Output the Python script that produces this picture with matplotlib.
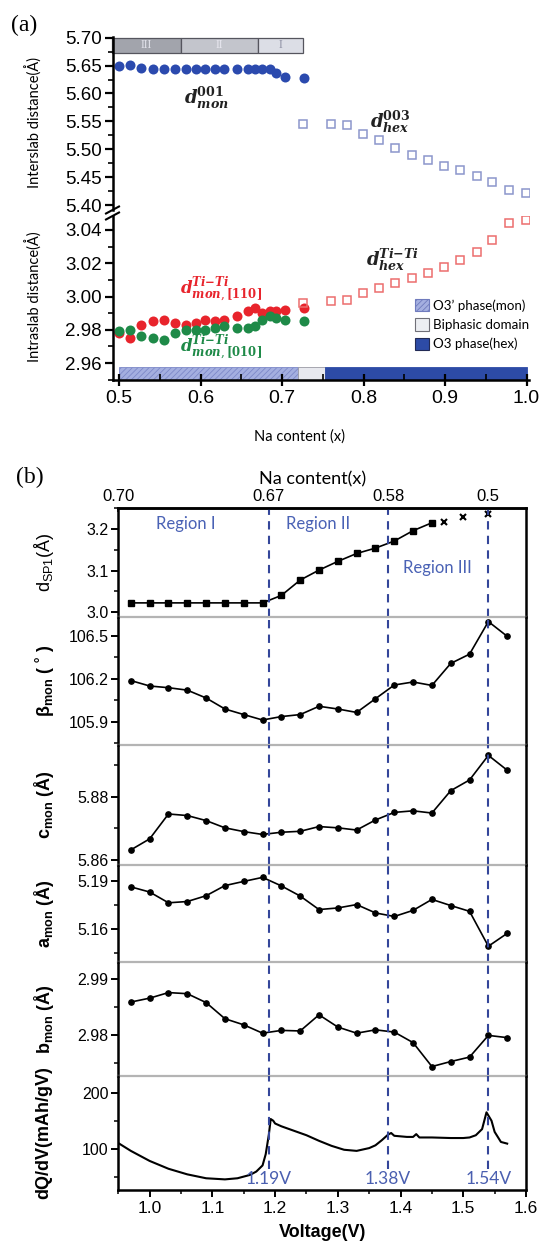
import matplotlib
matplotlib.use('Agg')
import matplotlib.pyplot as plt
from matplotlib.patches import Patch, Rectangle
from matplotlib.lines import Line2D
from matplotlib.ticker import MultipleLocator

plt.rcParams['font.family'] = ['Liberation Sans', 'DejaVu Sans']
plt.rcParams['mathtext.fontset'] = 'custom'
plt.rcParams['mathtext.rm'] = 'Liberation Sans'
plt.rcParams['mathtext.it'] = 'Liberation Sans:italic'
plt.rcParams['mathtext.bf'] = 'Liberation Sans:bold'
plt.rcParams['hatch.linewidth'] = 0.6

# ---------------- panel (a) data ----------------
na_mon = [0.500, 0.513, 0.527, 0.541, 0.555, 0.569, 0.582, 0.594, 0.605, 0.617,
          0.629, 0.644, 0.658, 0.667, 0.675, 0.685, 0.692, 0.704, 0.727]
d001_mon = [5.649, 5.651, 5.646, 5.644, 5.643, 5.643, 5.643, 5.643, 5.643, 5.643,
            5.643, 5.643, 5.643, 5.643, 5.643, 5.643, 5.636, 5.630, 5.628]
d110_mon = [2.978, 2.975, 2.983, 2.985, 2.986, 2.984, 2.983, 2.984, 2.986, 2.985,
            2.986, 2.988, 2.991, 2.993, 2.990, 2.991, 2.991, 2.992, 2.993]
d010_mon = [2.979, 2.980, 2.976, 2.975, 2.974, 2.978, 2.980, 2.980, 2.980, 2.981,
            2.982, 2.981, 2.981, 2.982, 2.986, 2.988, 2.987, 2.986, 2.985]

na_hex = [0.726, 0.760, 0.779, 0.799, 0.819, 0.839, 0.859, 0.879, 0.899, 0.918,
          0.939, 0.958, 0.978, 0.999]
d003_hex = [5.546, 5.546, 5.543, 5.528, 5.516, 5.503, 5.489, 5.480, 5.470, 5.462,
            5.452, 5.441, 5.427, 5.422]
dti_hex = [2.996, 2.997, 2.998, 3.002, 3.005, 3.008, 3.011, 3.014, 3.018, 3.022,
           3.027, 3.034, 3.044, 3.046]

region_edges = [0.491, 0.576, 0.670, 0.726]
region_names = ['III', 'II', 'I']
phase_edges = [0.5, 0.72, 0.753, 1.0]
phase_names = ["O3\u2019 phase(mon)", 'Biphasic domain', 'O3 phase(hex)']

# ---------------- panel (b) data ----------------
dsp_v = [0.97, 1.00, 1.03, 1.06, 1.09, 1.12, 1.15, 1.18, 1.21, 1.24, 1.27, 1.30,
         1.33, 1.36, 1.39, 1.42, 1.45]
dsp = [3.022, 3.022, 3.022, 3.022, 3.022, 3.022, 3.022, 3.022, 3.040, 3.077, 3.101,
       3.122, 3.141, 3.154, 3.171, 3.196, 3.215]
dsp_x_v = [1.47, 1.50, 1.54]
dsp_x = [3.218, 3.229, 3.235]

volt = [0.97, 1.00, 1.03, 1.06, 1.09, 1.12, 1.15, 1.18, 1.21, 1.24, 1.27, 1.30,
        1.33, 1.36, 1.39, 1.42, 1.45, 1.48, 1.51, 1.54, 1.57]
beta = [106.188, 106.150, 106.138, 106.121, 106.066, 105.989, 105.950, 105.912,
        105.936, 105.950, 106.008, 105.989, 105.965, 106.061, 106.157, 106.178,
        106.154, 106.308, 106.373, 106.601, 106.498]
c_mon = [5.8632, 5.8667, 5.8746, 5.8741, 5.8725, 5.8702, 5.8690, 5.8681, 5.8688,
         5.8691, 5.8706, 5.8702, 5.8695, 5.8727, 5.8751, 5.8756, 5.8749, 5.8820,
         5.8854, 5.8932, 5.8885]
a_mon = [5.1862, 5.1830, 5.1763, 5.1771, 5.1807, 5.1870, 5.1896, 5.1921, 5.1868,
         5.1805, 5.1721, 5.1731, 5.1752, 5.1700, 5.1678, 5.1716, 5.1784, 5.1746,
         5.1710, 5.1493, 5.1573]
b_mon = [2.9859, 2.9866, 2.9876, 2.9874, 2.9858, 2.9829, 2.9818, 2.9803, 2.9808,
         2.9807, 2.9836, 2.9814, 2.9803, 2.9809, 2.9805, 2.9786, 2.9743, 2.9752,
         2.9760, 2.9799, 2.9795]

dqdv_v = [0.95, 0.97, 1.00, 1.03, 1.06, 1.09, 1.12, 1.14, 1.16, 1.17, 1.18, 1.185,
          1.19, 1.193, 1.197, 1.20, 1.21, 1.23, 1.25, 1.27, 1.29, 1.31, 1.33, 1.35,
          1.36, 1.37, 1.38, 1.385, 1.39, 1.41, 1.42, 1.425, 1.43, 1.45, 1.48, 1.50,
          1.51, 1.52, 1.53, 1.537, 1.545, 1.55, 1.56, 1.57]
dqdv = [110, 96, 78, 64, 54, 47, 45, 47, 53, 59, 70, 90, 125, 153, 150, 145, 140,
        132, 124, 114, 105, 98, 96, 101, 106, 115, 125, 128, 123, 121, 121, 126,
        120, 120, 119, 119, 120, 124, 135, 165, 150, 130, 112, 109]

peaks = [1.19, 1.38, 1.54]
peak_labels = ['1.19V', '1.38V', '1.54V']
top_ticks = [0.95, 1.19, 1.38, 1.54]
top_labels = ['0.70', '0.67', '0.58', '0.5']

W, H = 541, 1246
def fx(p):
    return p / W
def fy(p):
    return 1 - p / H

fig = plt.figure(figsize=(W / 100, H / 100), dpi=100)

# ================= panel (a) =================
L, R = 112.7, 529
ax_top = fig.add_axes([fx(L), fy(210), (R - L) / W, (210 - 36.7) / H])
ax_bot = fig.add_axes([fx(L), fy(380), (R - L) / W, (380 - 216) / H])

for ax in (ax_top, ax_bot):
    ax.set_xlim(0.4919, 1.003)
    ax.patch.set_alpha(0)
    for s in ('top', 'right'):
        ax.spines[s].set_visible(False)
    ax.spines['left'].set_linewidth(1.8)
    ax.spines['bottom'].set_linewidth(1.8)
    ax.tick_params(axis='y', which='major', direction='out', length=6, width=1.6,
                   labelsize=13.5, pad=2)
    ax.tick_params(axis='y', which='minor', direction='out', length=3.5, width=1.2)

ax_top.spines['bottom'].set_visible(False)
ax_top.tick_params(axis='x', bottom=False, labelbottom=False, which='both')
ax_top.set_ylim(5.3911, 5.7018)
ax_top.yaxis.set_major_locator(MultipleLocator(0.05))
ax_top.yaxis.set_minor_locator(MultipleLocator(0.025))
ax_top.yaxis.set_major_formatter(matplotlib.ticker.FormatStrFormatter('%.2f'))

ax_bot.set_ylim(2.9498, 3.0484)
ax_bot.yaxis.set_major_locator(MultipleLocator(0.02))
ax_bot.yaxis.set_minor_locator(MultipleLocator(0.01))
ax_bot.yaxis.set_major_formatter(matplotlib.ticker.FormatStrFormatter('%.2f'))
ax_bot.xaxis.set_major_locator(MultipleLocator(0.1))
ax_bot.xaxis.set_minor_locator(MultipleLocator(0.05))
ax_bot.xaxis.set_major_formatter(matplotlib.ticker.FormatStrFormatter('%.1f'))
ax_bot.tick_params(axis='x', which='major', direction='inout', length=8, width=1.6,
                   labelsize=14, pad=3)
ax_bot.tick_params(axis='x', which='minor', direction='in', length=4, width=1.2)

ax_top.plot(na_mon, d001_mon, 'o', color='#2b4aae', ms=7.2, mew=0)
ax_top.plot(na_hex, d003_hex, 's', mfc='none', mec='#8c96cc', ms=6, mew=1.1)
ax_bot.plot(na_mon, d110_mon, 'o', color='#e8242c', ms=7.2, mew=0)
ax_bot.plot(na_mon, d010_mon, 'o', color='#1e8a48', ms=7.2, mew=0)
ax_bot.plot(na_hex, dti_hex, 's', mfc='none', mec='#ec6e6e', ms=6, mew=1.1)

# region bar on top
reg_colors = ['#a2a4ac', '#c3c5cc', '#dcdee6']
reg_text = ['#e4e4ec', '#e8e8f0', '#8e90a4']
for i in range(3):
    ax_top.add_patch(Rectangle((region_edges[i], 5.673), region_edges[i + 1] - region_edges[i],
                               0.027, fc=reg_colors[i], ec='#55555e', lw=0.9, clip_on=False))
    ax_top.text((region_edges[i] + region_edges[i + 1]) / 2, 5.6865, region_names[i],
                ha='center', va='center', fontsize=8.5, color=reg_text[i],
                family='Liberation Serif')

# phase bar on bottom
ph_fc = ['#a4afe0', '#e8e9ef', '#2d4ba6']
ph_ec = ['#7d89c8', '#9a9aa4', '#2d4ba6']
ph_hatch = ['//////', None, None]
for i in range(3):
    ax_bot.add_patch(Rectangle((phase_edges[i], 2.9498), phase_edges[i + 1] - phase_edges[i],
                               0.0077, fc=ph_fc[i], ec=ph_ec[i], lw=0.6, hatch=ph_hatch[i]))

handles = [Patch(fc=ph_fc[0], ec='#6f7bbd', hatch='//////', lw=0.8),
           Patch(fc='#eceef2', ec='#707078', lw=0.8),
           Patch(fc=ph_fc[2], ec='#222a55', lw=0.8)]
leg = ax_bot.legend(handles, phase_names, loc='upper left', bbox_to_anchor=(0.71, 0.535),
                    frameon=False, borderpad=0, handlelength=1.05, handleheight=1.05,
                    handletextpad=0.3, labelspacing=0.5,
                    prop={'family': 'Lato', 'size': 9.6})

mf = 'dejavuserif'
ax_top.text(0.607, 5.592, r'$\mathbfit{d}_{\mathbfit{mon}}^{\mathbf{001}}$', ha='center',
            va='center', fontsize=13, color='#222222', math_fontfamily=mf)
ax_top.text(0.833, 5.549, r'$\mathbfit{d}_{\mathbfit{hex}}^{\mathbf{003}}$', ha='center',
            va='center', fontsize=13, color='#222222', math_fontfamily=mf)
ax_bot.text(0.835, 3.022, r'$\mathbfit{d}_{\mathbfit{hex}}^{\mathbfit{Ti{-}Ti}}$', ha='center',
            va='center', fontsize=13, color='#222222', math_fontfamily=mf)
ax_bot.text(0.625, 3.004, r'$\mathbfit{d}_{\mathbfit{mon},\mathbf{[110]}}^{\mathbfit{Ti{-}Ti}}$',
            ha='center', va='center', fontsize=12, color='#e8242c', math_fontfamily=mf)
ax_bot.text(0.625, 2.969, r'$\mathbfit{d}_{\mathbfit{mon},\mathbf{[010]}}^{\mathbfit{Ti{-}Ti}}$',
            ha='center', va='center', fontsize=12, color='#1e8a48', math_fontfamily=mf)

# axis break marks
for yb in (210, 216):
    fig.add_artist(Line2D([fx(106), fx(119)], [fy(yb + 3.5), fy(yb - 3.5)],
                          transform=fig.transFigure, color='k', lw=1.5))

fig.text(fx(34), fy(123), 'Interslab distance(Å)', rotation=90, ha='center', va='center',
         family='Lato', fontsize=10.5)
fig.text(fx(34), fy(297), 'Intraslab distance(Å)', rotation=90, ha='center', va='center',
         family='Lato', fontsize=10.5)
fig.text(fx(300), fy(437), 'Na content (x)', ha='center', va='center', family='Lato',
         fontsize=10.5)
fig.text(fx(24), fy(25), '(a)', ha='center', va='center', family='Liberation Serif',
         fontsize=17)
fig.text(fx(30), fy(477), '(b)', ha='center', va='center', family='Liberation Serif',
         fontsize=17)

# ================= panel (b) =================
bounds = [508, 617, 745, 865, 962, 1076, 1190]
BL, BR = 118.3, 526
axes_b = []
for i in range(6):
    ax = fig.add_axes([fx(BL), fy(bounds[i + 1]), (BR - BL) / W,
                       (bounds[i + 1] - bounds[i]) / H])
    ax.set_xlim(0.95, 1.6)
    ax.patch.set_alpha(0)
    for s in ('left', 'right'):
        ax.spines[s].set_linewidth(1.8)
    if i > 0:
        ax.spines['top'].set_visible(False)
    else:
        ax.spines['top'].set_linewidth(1.8)
    if i < 5:
        ax.spines['bottom'].set_color('#b4b4b4')
        ax.spines['bottom'].set_linewidth(1.6)
        ax.tick_params(axis='x', which='both', bottom=False, labelbottom=False)
    else:
        ax.spines['bottom'].set_linewidth(1.8)
    ax.tick_params(axis='y', which='major', direction='out', length=5, width=1.4,
                   labelsize=11.5, pad=2)
    ax.tick_params(axis='y', which='minor', direction='out', length=3, width=1.1)
    axes_b.append(ax)

ax_d, ax_beta, ax_c, ax_a, ax_b, ax_q = axes_b

ax_d.set_ylim(2.988, 3.2506)
ax_d.yaxis.set_major_locator(MultipleLocator(0.1))
ax_d.yaxis.set_minor_locator(MultipleLocator(0.05))
ax_d.yaxis.set_major_formatter(matplotlib.ticker.FormatStrFormatter('%.1f'))
ax_d.plot(dsp_v, dsp, 's-', color='k', ms=3.8, lw=1.2)
ax_d.plot(dsp_x_v, dsp_x, 'x', color='k', ms=4, mew=1.5)

ax_beta.set_ylim(105.737, 106.633)
ax_beta.yaxis.set_major_locator(MultipleLocator(0.3))
ax_beta.yaxis.set_minor_locator(MultipleLocator(0.15))
ax_beta.yaxis.set_major_formatter(matplotlib.ticker.FormatStrFormatter('%.1f'))
ax_beta.plot(volt, beta, 'o-', color='k', ms=3.8, lw=1.2)

ax_c.set_ylim(5.8584, 5.8965)
ax_c.yaxis.set_major_locator(MultipleLocator(0.02))
ax_c.yaxis.set_minor_locator(MultipleLocator(0.01))
ax_c.yaxis.set_major_formatter(matplotlib.ticker.FormatStrFormatter('%.2f'))
ax_c.plot(volt, c_mon, 'o-', color='k', ms=3.8, lw=1.2)

ax_a.set_ylim(5.1395, 5.1998)
ax_a.yaxis.set_major_locator(MultipleLocator(0.03))
ax_a.yaxis.set_minor_locator(MultipleLocator(0.015))
ax_a.yaxis.set_major_formatter(matplotlib.ticker.FormatStrFormatter('%.2f'))
ax_a.plot(volt, a_mon, 'o-', color='k', ms=3.8, lw=1.2)

ax_b.set_ylim(2.9726, 2.9931)
ax_b.yaxis.set_major_locator(MultipleLocator(0.01))
ax_b.yaxis.set_minor_locator(MultipleLocator(0.005))
ax_b.yaxis.set_major_formatter(matplotlib.ticker.FormatStrFormatter('%.2f'))
ax_b.plot(volt, b_mon, 'o-', color='k', ms=3.8, lw=1.2)

ax_q.set_ylim(26, 230)
ax_q.yaxis.set_major_locator(MultipleLocator(100))
ax_q.yaxis.set_minor_locator(MultipleLocator(50))
ax_q.plot(dqdv_v, dqdv, '-', color='k', lw=1.5)
ax_q.xaxis.set_major_locator(MultipleLocator(0.1))
ax_q.xaxis.set_minor_locator(MultipleLocator(0.05))
ax_q.xaxis.set_major_formatter(matplotlib.ticker.FormatStrFormatter('%.1f'))
ax_q.tick_params(axis='x', which='major', direction='out', length=5, width=1.4,
                 labelsize=12.5, pad=3)
ax_q.tick_params(axis='x', which='minor', direction='out', length=3, width=1.1)
ax_q.set_xlabel('Voltage(V)', fontsize=13, fontweight='bold', labelpad=6)

blue = '#34469a'
for ax in axes_b[:5]:
    for v in peaks:
        ax.axvline(v, color=blue, ls=(0, (4, 3)), lw=1.5)
for v, lab in zip(peaks, peak_labels):
    ax_q.axvline(v, ymin=0.18, color=blue, ls=(0, (4, 3)), lw=1.5)
    ax_q.text(v, 46, lab, ha='center', va='center', color='#4a5fb0', family='Lato',
              fontsize=12.5)

txt_blue = '#4a62b5'
ax_d.text(1.057, 3.213, 'Region I', ha='center', va='center', color=txt_blue,
          family='Lato', fontsize=12)
ax_d.text(1.268, 3.213, 'Region II', ha='center', va='center', color=txt_blue,
          family='Lato', fontsize=12)
ax_d.text(1.459, 3.107, 'Region III', ha='center', va='center', color=txt_blue,
          family='Lato', fontsize=12)

sec = ax_d.secondary_xaxis('top')
sec.set_xticks(top_ticks)
sec.set_xticklabels(top_labels)
sec.tick_params(axis='x', direction='in', length=3, width=1.2, labelsize=12, pad=3)
sec.spines['top'].set_linewidth(1.8)
fig.text(fx(313), fy(479), 'Na content(x)', ha='center', va='center', family='Lato',
         fontsize=13)

ylabels = [r'd$_{\mathregular{SP1}}$(Å)',
           r'$\mathbf{\beta_{mon}}$ ( ˚ )',
           r'$\mathbf{c_{mon}}$ (Å)',
           r'$\mathbf{a_{mon}}$ (Å)',
           r'$\mathbf{b_{mon}}$ (Å)',
           'dQ/dV(mAh/gV)']
weights = ['normal', 'bold', 'bold', 'bold', 'bold', 'bold']
for i, lab in enumerate(ylabels):
    yc = (bounds[i] + bounds[i + 1]) / 2
    fig.text(fx(44), fy(yc), lab, rotation=90, ha='center', va='center',
             fontsize=13, fontweight=weights[i])

fig.savefig('out.png', dpi=100)
